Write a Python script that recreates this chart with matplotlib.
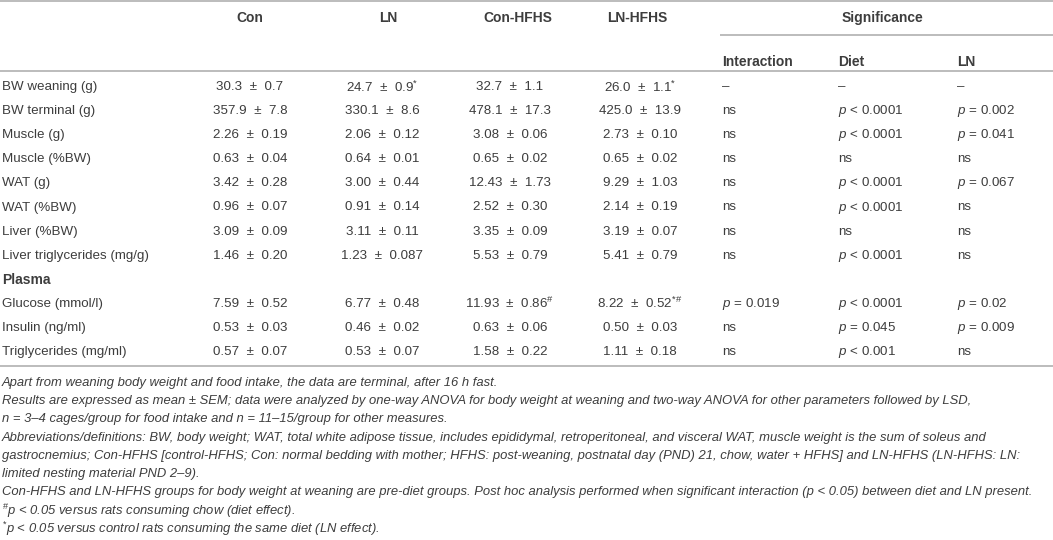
import matplotlib
matplotlib.use("Agg")
import matplotlib.pyplot as plt

plt.rcParams['font.family'] = ['Liberation Sans', 'DejaVu Sans']
plt.rcParams['mathtext.fontset'] = 'custom'
plt.rcParams['mathtext.rm'] = 'Liberation Sans'
plt.rcParams['mathtext.it'] = 'Liberation Sans:italic'
plt.rcParams['mathtext.bf'] = 'Liberation Sans:bold'

# ---- table data ----
groups = ["Con", "LN", "Con-HFHS", "LN-HFHS"]
sig_header = "Significance"
sig_cols = ["Interaction", "Diet", "LN"]

row_labels = ["BW weaning (g)", "BW terminal (g)", "Muscle (g)", "Muscle (%BW)",
              "WAT (g)", "WAT (%BW)", "Liver (%BW)", "Liver triglycerides (mg/g)",
              "Plasma",
              "Glucose (mmol/l)", "Insulin (ng/ml)", "Triglycerides (mg/ml)"]
section_rows = ["Plasma"]

con = ["30.3 ± 0.7", "357.9 ± 7.8", "2.26 ± 0.19", "0.63 ± 0.04", "3.42 ± 0.28",
       "0.96 ± 0.07", "3.09 ± 0.09", "1.46 ± 0.20", "",
       "7.59 ± 0.52", "0.53 ± 0.03", "0.57 ± 0.07"]
ln = ["24.7 ± 0.9*", "330.1 ± 8.6", "2.06 ± 0.12", "0.64 ± 0.01", "3.00 ± 0.44",
      "0.91 ± 0.14", "3.11 ± 0.11", "1.23 ± 0.087", "",
      "6.77 ± 0.48", "0.46 ± 0.02", "0.53 ± 0.07"]
con_hfhs = ["32.7 ± 1.1", "478.1 ± 17.3", "3.08 ± 0.06", "0.65 ± 0.02", "12.43 ± 1.73",
            "2.52 ± 0.30", "3.35 ± 0.09", "5.53 ± 0.79", "",
            "11.93 ± 0.86#", "0.63 ± 0.06", "1.58 ± 0.22"]
ln_hfhs = ["26.0 ± 1.1*", "425.0 ± 13.9", "2.73 ± 0.10", "0.65 ± 0.02", "9.29 ± 1.03",
           "2.14 ± 0.19", "3.19 ± 0.07", "5.41 ± 0.79", "",
           "8.22 ± 0.52*#", "0.50 ± 0.03", "1.11 ± 0.18"]

interaction = ["–", "ns", "ns", "ns", "ns", "ns", "ns", "ns", "",
               "p = 0.019", "ns", "ns"]
diet = ["–", "p < 0.0001", "p < 0.0001", "ns", "p < 0.0001", "p < 0.0001", "ns",
        "p < 0.0001", "", "p < 0.0001", "p = 0.045", "p < 0.001"]
ln_effect = ["–", "p = 0.002", "p = 0.041", "ns", "p = 0.067", "ns", "ns", "ns", "",
             "p = 0.02", "p = 0.009", "ns"]

footnotes = [
    "Apart from weaning body weight and food intake, the data are terminal, after 16 h fast.",
    "Results are expressed as mean ± SEM; data were analyzed by one-way ANOVA for body weight at weaning and two-way ANOVA for other parameters followed by LSD,",
    "n = 3–4 cages/group for food intake and n = 11–15/group for other measures.",
    "Abbreviations/definitions: BW, body weight; WAT, total white adipose tissue, includes epididymal, retroperitoneal, and visceral WAT, muscle weight is the sum of soleus and",
    "gastrocnemius; Con-HFHS [control-HFHS; Con: normal bedding with mother; HFHS: post-weaning, postnatal day (PND) 21, chow, water + HFHS] and LN-HFHS (LN-HFHS: LN:",
    "limited nesting material PND 2–9).",
    "Con-HFHS and LN-HFHS groups for body weight at weaning are pre-diet groups. Post hoc analysis performed when significant interaction (p < 0.05) between diet and LN present.",
    "#p < 0.05 versus rats consuming chow (diet effect).",
    "*p < 0.05 versus control rats consuming the same diet (LN effect).",
]


def fmt_value(s):
    """mean ± sem with trailing marks as superscripts"""
    marks = ""
    while s and s[-1] in "*#":
        marks = s[-1] + marks
        s = s[:-1]
    s = s.replace(" ± ", "  ±  ")
    if marks:
        s += "$^{" + marks.replace("#", r"\#") + "}$"
    return s


def fmt_sig(s):
    if s.startswith("p "):
        return r"$\mathit{p}$" + s[1:]
    return s


def fmt_foot(s):
    if s[0] in "*#":
        return "$^{" + s[0].replace("#", r"\#") + "}$" + s[1:]
    return s


# ---- layout (pixels) ----
W, H = 1053, 540
TXT = "#3d3d3d"
LINE = "#b0b0b0"
FS = 9.6

fig = plt.figure(figsize=(W / 100, H / 100), dpi=100)
ax = fig.add_axes([0, 0, 1, 1])
ax.set_xlim(0, W)
ax.set_ylim(H, 0)
ax.axis('off')

group_hdr_x = [250, 388, 518, 637]
group_val_x = [250, 382, 510, 640]
sig_x = [722, 838, 957]

# rules
ax.hlines([1, 71, 366], 0, W, color=LINE, lw=1.2)
ax.hlines(35, 720, W, color=LINE, lw=1.2)

# headers
for name, x in zip(groups, group_hdr_x):
    ax.text(x, 18, name, ha='center', va='center', fontsize=10, fontweight='bold', color=TXT)
ax.text(882, 18, sig_header, ha='center', va='center', fontsize=10, fontweight='bold', color=TXT)
for name, x in zip(sig_cols, sig_x):
    ax.text(x, 62, name, ha='left', va='center', fontsize=10, fontweight='bold', color=TXT)

# body
y0, dy = 87, 24.1
for i, lab in enumerate(row_labels):
    y = y0 + i * dy
    bold = lab in section_rows
    ax.text(2, y, lab, ha='left', va='center', fontsize=10 if bold else FS,
            fontweight='bold' if bold else 'normal', color=TXT)
    for col, x in zip([con, ln, con_hfhs, ln_hfhs], group_val_x):
        if col[i]:
            ax.text(x, y, fmt_value(col[i]), ha='center', va='center', fontsize=FS, color=TXT)
    for col, x in zip([interaction, diet, ln_effect], sig_x):
        if col[i]:
            ax.text(x, y, fmt_sig(col[i]), ha='left', va='center', fontsize=FS, color=TXT)

# footnotes
for i, line in enumerate(footnotes):
    ax.text(2, 383 + i * 18.2, fmt_foot(line), ha='left', va='center', fontsize=9.4,
            style='italic', color=TXT)

fig.savefig("out.png", dpi=100)
